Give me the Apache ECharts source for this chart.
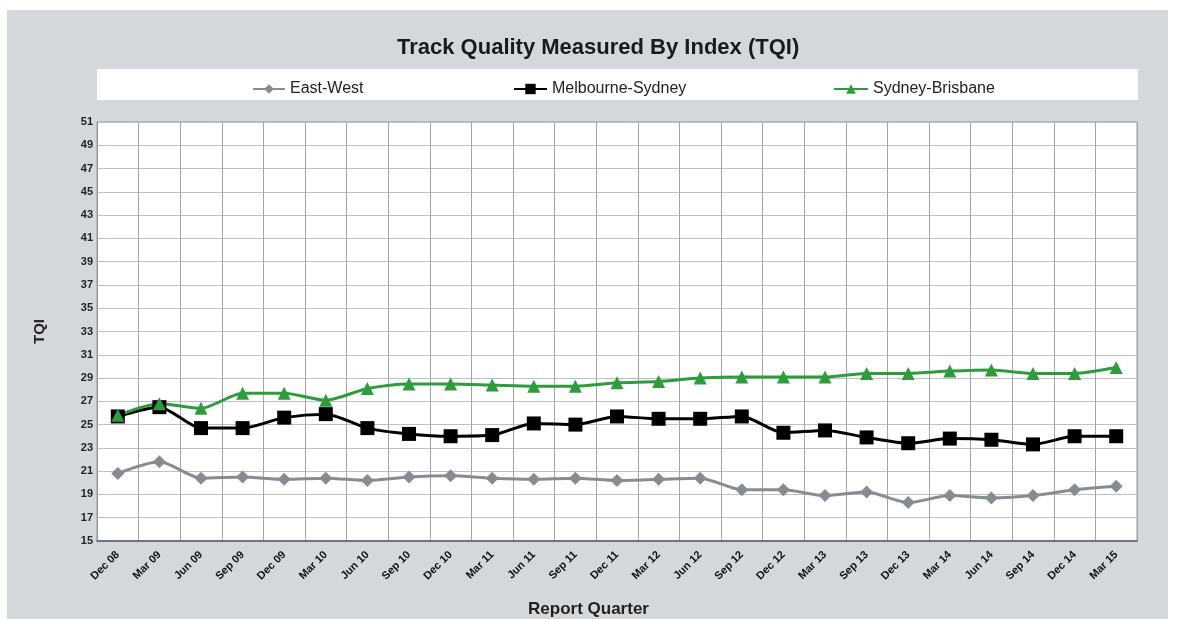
<!DOCTYPE html>
<html>
<head>
<meta charset="utf-8">
<script src="https://cdn.jsdelivr.net/npm/echarts@6/dist/echarts.min.js"></script>
<style>
html,body{margin:0;padding:0;background:#ffffff;}
#c{width:1177px;height:619px;}
</style>
</head>
<body>
<div id="c"></div>
<script>
const categories = ['Dec 08','Mar 09','Jun 09','Sep 09','Dec 09','Mar 10','Jun 10','Sep 10','Dec 10','Mar 11','Jun 11','Sep 11','Dec 11','Mar 12','Jun 12','Sep 12','Dec 12','Mar 13','Sep 13','Dec 13','Mar 14','Jun 14','Sep 14','Dec 14','Mar 15'];
const eastWest = [20.8,21.8,20.4,20.5,20.3,20.4,20.2,20.5,20.6,20.4,20.3,20.4,20.2,20.3,20.4,19.4,19.4,18.9,19.2,18.3,18.9,18.7,18.9,19.4,19.7];
const melbSyd = [25.7,26.5,24.7,24.7,25.6,25.9,24.7,24.2,24.0,24.1,25.1,25.0,25.7,25.5,25.5,25.7,24.3,24.5,23.9,23.4,23.8,23.7,23.3,24.0,24.0];
const sydBris = [25.8,26.8,26.4,27.7,27.7,27.1,28.1,28.5,28.5,28.4,28.3,28.3,28.6,28.7,29.0,29.1,29.1,29.1,29.4,29.4,29.6,29.7,29.4,29.4,29.9];

const chart = echarts.init(document.getElementById('c'));
const font = 'Liberation Sans, Arial, sans-serif';
const legendText = {fontFamily: font, fontSize: 16, color: '#222'};
chart.setOption({
  animation: false,
  backgroundColor: '#ffffff',
  graphic: [
    {type:'rect', z:-10, shape:{x:7,y:10,width:1161,height:609}, style:{fill:'#d5d8db'}},
    {type:'rect', z:-9, shape:{x:97,y:69,width:1041,height:31}, style:{fill:'#ffffff'}}
  ],
  title: [
    {
      text: 'Track Quality Measured By Index (TQI)',
      left: 392, top: 32,
      textStyle: {fontFamily: font, fontSize: 22, fontWeight: 'bold', color: '#1a1a1a'}
    },
    {
      text: 'Report Quarter',
      left: 'center', top: 596,
      textStyle: {fontFamily: font, fontSize: 17, fontWeight: 'bold', color: '#222'}
    }
  ],
  legend: [
    {data:['East-West'], left: 247, top: 76, itemWidth: 32, itemHeight: 12, itemGap: 2, textStyle: legendText},
    {data:['Melbourne-Sydney'], left: 508, top: 76, itemWidth: 33, itemHeight: 13, itemGap: 2, textStyle: legendText},
    {data:['Sydney-Brisbane'], left: 828, top: 76, itemWidth: 34, itemHeight: 12, itemGap: 2, textStyle: legendText}
  ],
  grid: {
    left: 97, right: 40, top: 122, bottom: 78,
    show: true, backgroundColor: '#ffffff', borderColor: '#8d98a6', borderWidth: 1
  },
  xAxis: {
    type: 'category',
    data: categories,
    boundaryGap: true,
    axisLine: {show: true, lineStyle: {color: '#4d5b70', width: 1.5}},
    axisTick: {show: false},
    axisLabel: {rotate: 45, interval: 0, fontFamily: font, fontSize: 11, fontWeight: 'bold', color: '#111', margin: 12},
    splitLine: {show: true, interval: 0, lineStyle: {color: '#a2a5a9', width: 1}}
  },
  yAxis: {
    type: 'value',
    min: 15, max: 51, interval: 2,
    name: 'TQI',
    nameLocation: 'middle',
    nameGap: 50,
    nameRotate: 90,
    nameTextStyle: {fontFamily: font, fontSize: 15, fontWeight: 'bold', color: '#222'},
    axisLine: {show: true, lineStyle: {color: '#8d98a6'}},
    axisTick: {show: false},
    axisLabel: {fontFamily: font, fontSize: 11, fontWeight: 'bold', color: '#222', margin: 4},
    splitLine: {show: true, lineStyle: {color: '#bcbfc3', width: 1}}
  },
  series: [
    {name:'East-West', type:'line', data: eastWest, smooth: 0.25, symbol:'diamond', symbolSize: 13,
     itemStyle:{color:'#878c92'}, lineStyle:{color:'#878c92', width: 3}},
    {name:'Melbourne-Sydney', type:'line', data: melbSyd, smooth: 0.25, symbol:'rect', symbolSize: 14,
     itemStyle:{color:'#000000'}, lineStyle:{color:'#000000', width: 3}},
    {name:'Sydney-Brisbane', type:'line', data: sydBris, smooth: 0.25, symbol:'triangle', symbolSize: 13,
     itemStyle:{color:'#2e9c3c'}, lineStyle:{color:'#2e9c3c', width: 3}}
  ]
});
</script>
</body>
</html>
